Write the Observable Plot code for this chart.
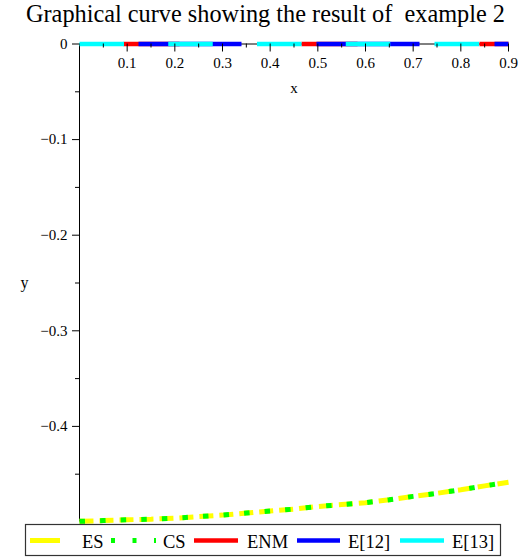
<!DOCTYPE html>
<html><head><meta charset="utf-8">
<script src="https://cdn.jsdelivr.net/npm/d3@7"></script>
<script src="https://cdn.jsdelivr.net/npm/@observablehq/plot@0.6"></script>
<style>
html,body{margin:0;padding:0;background:#fff;}
#wrap{position:relative;width:519px;height:558px;overflow:hidden;background:#fff;}
#title{position:absolute;left:0;top:0px;width:531px;text-align:center;font-family:"Liberation Serif",serif;font-size:24.3px;white-space:pre;color:#000;}
#legend{position:absolute;left:0;top:0;}
#chart svg{display:block;}
#chart svg, #chart svg text{font-family:"Liberation Serif",serif !important;}
</style></head><body>
<div id="wrap"><div id="chart"></div><div id="title"></div><svg id="legend" width="519" height="558"></svg></div>
<script>
const title = "Graphical curve showing the result of  example 2";
const xs  = [0, 0.05, 0.1, 0.15, 0.2, 0.25, 0.3, 0.35, 0.4, 0.45, 0.5, 0.55, 0.6, 0.65, 0.7, 0.75, 0.8, 0.85, 0.9];
const ES  = [-0.4993, -0.4985, -0.4977, -0.4970, -0.4960, -0.4944, -0.4928, -0.4907, -0.4886, -0.4865, -0.4838, -0.4818, -0.4798, -0.4768, -0.4732, -0.4700, -0.4663, -0.4622, -0.4585];
const CS  = [-0.4993, -0.4985, -0.4977, -0.4970, -0.4960, -0.4944, -0.4928, -0.4907, -0.4886, -0.4865, -0.4838, -0.4818, -0.4798, -0.4768, -0.4732, -0.4700, -0.4663, -0.4622, -0.4585];
const ENM = [0, 0, 0, 0, 0, 0, 0, 0, 0, 0, 0, 0, 0, 0, 0, 0, 0, 0, 0];
const E12 = [0, 0, 0, 0, 0, 0, 0, 0, 0, 0, 0, 0, 0, 0, 0, 0, 0, 0, 0];
const E13 = [0, 0, 0, 0, 0, 0, 0, 0, 0, 0, 0, 0, 0, 0, 0, 0, 0, 0, 0];
const xMajor = [0.1, 0.2, 0.3, 0.4, 0.5, 0.6, 0.7, 0.8, 0.9];
const xMinor = [0.05, 0.15, 0.25, 0.35, 0.45, 0.55, 0.65, 0.75, 0.85];
const yMajor = [0, -0.1, -0.2, -0.3, -0.4];
const yMinor = [-0.05, -0.15, -0.25, -0.35, -0.45];
const seriesNames  = ["ES", "CS", "ENM", "E[12]", "E[13]"];
const seriesColors = ["#ffff00", "#00ff00", "#ff0000", "#0000ff", "#00ffff"];

const rows = ys => xs.map((x, i) => ({x, y: ys[i]}));
const base = {x: "x", y: "y", strokeLinecap: "butt", strokeLinejoin: "miter"};
const fmtY = d => d === 0 ? "0" : (d < 0 ? "\u2212" : "") + Math.abs(d).toFixed(1);
const FS = 15;

const chart = Plot.plot({
  width: 519, height: 558,
  marginLeft: 79, marginRight: 11, marginTop: 43.5, marginBottom: 36.5,
  x: {domain: [0, 0.9], axis: null, label: null},
  y: {domain: [-0.5, 0], label: null},
  style: {fontFamily: "Liberation Serif, serif", fontSize: "15px", color: "black", background: "white"},
  marks: [
    Plot.ruleX([0], {stroke: "black"}),
    Plot.ruleY([0], {stroke: "black"}),
    Plot.line(rows(ES),  {...base, stroke: seriesColors[0], strokeWidth: 5, strokeDasharray: "14,6"}),
    Plot.line(rows(CS),  {...base, stroke: seriesColors[1], strokeWidth: 5, strokeDasharray: "5.5,15.1"}),
    Plot.line(rows(ENM), {...base, stroke: seriesColors[2], strokeWidth: 4.5, strokeDasharray: "56,122", strokeDashoffset: 134}),
    Plot.line(rows(E12), {...base, stroke: seriesColors[3], strokeWidth: 4.5, strokeDasharray: "103,75", strokeDashoffset: 119}),
    Plot.line(rows(E13), {...base, stroke: seriesColors[4], strokeWidth: 4.5, strokeDasharray: "44.5,44.25"}),
    Plot.tickX(xMajor, {x: d => d, insetBottom: 470, stroke: "black"}),
    Plot.tickX(xMinor, {x: d => d, insetBottom: 474, stroke: "black"}),
    Plot.text(xMajor, {x: d => d, frameAnchor: "top", lineAnchor: "middle", dy: 19.5, text: d => d.toFixed(1), fill: "black", fontSize: FS}),
    Plot.axisY(yMajor, {tickSize: 7, tickPadding: 5, tickFormat: fmtY, fontSize: FS}),
    Plot.axisY(yMinor, {tickSize: 4, tickFormat: () => ""}),
    Plot.text(["x"], {frameAnchor: "top", lineAnchor: "middle", dy: 44, text: d => d, fill: "black", fontSize: FS}),
    Plot.text(["y"], {frameAnchor: "left", dx: -59, text: d => d, fill: "black", fontSize: FS + 1})
  ]
});
document.getElementById("chart").appendChild(chart);
document.getElementById("title").textContent = title;

// legend
const lg = d3.select("#legend");
lg.append("rect").attr("x", 25.5).attr("y", 524.5).attr("width", 475).attr("height", 31)
  .attr("fill", "white").attr("stroke", "#333").attr("stroke-width", 1.2);
const swatchX = [[30, 60], [111, 156], [194, 238], [297, 340], [400, 444]];
const swatchDash = [null, "4,17.5", null, null, null];
const textX = [82, 163, 247, 348, 452];
seriesNames.forEach((name, i) => {
  lg.append("line").attr("x1", swatchX[i][0]).attr("x2", swatchX[i][1])
    .attr("y1", 540.5).attr("y2", 540.5)
    .attr("stroke", seriesColors[i]).attr("stroke-width", i < 2 ? 5 : 4.5)
    .attr("stroke-dasharray", swatchDash[i]);
  lg.append("text").attr("x", textX[i]).attr("y", 547.5)
    .attr("font-family", "Liberation Serif, serif").attr("font-size", "18.5px")
    .attr("fill", "black").text(name);
});
</script>
</body></html>
